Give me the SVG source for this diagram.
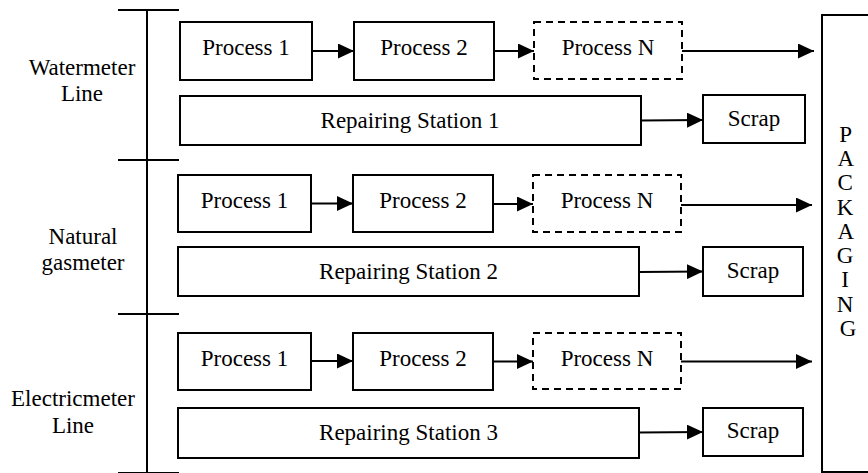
<svg xmlns="http://www.w3.org/2000/svg" width="868" height="473" viewBox="0 0 868 473">
<style>
  .box { fill: #fff; stroke: #000; stroke-width: 2; }
  .dash { fill: #fff; stroke: #000; stroke-width: 2; stroke-dasharray: 7 5; }
  .t { font-family: "Liberation Serif", "Tinos", "Times New Roman", "DejaVu Serif", serif; font-size: 23px; fill: #000; text-anchor: middle; }
  .c { stroke: #000; stroke-width: 2; fill: none; marker-end: url(#ah); }
  .ax { stroke: #000; stroke-width: 2; fill: none; }
</style>
<defs>
  <marker id="ah" markerUnits="userSpaceOnUse" markerWidth="16" markerHeight="15" refX="16" refY="7.5" orient="auto">
    <path d="M0,0 L16,7.5 L0,15 Z" fill="#000"/>
  </marker>
</defs>
<rect width="868" height="473" fill="#fff"/>

<g id="axis">
  <line class="ax" x1="147" y1="10" x2="147" y2="473"/>
  <line class="ax" x1="118" y1="10" x2="179" y2="10"/>
  <line class="ax" x1="118" y1="160" x2="179" y2="160"/>
  <line class="ax" x1="118" y1="314" x2="179" y2="314"/>
  <line class="ax" x1="118" y1="473" x2="179" y2="473"/>
</g>

<g id="label-water">
  <text class="t" x="82" y="75">Watermeter</text>
  <text class="t" x="82" y="101">Line</text>
</g>
<g id="label-gas">
  <text class="t" x="83" y="244">Natural</text>
  <text class="t" x="83" y="270">gasmeter</text>
</g>
<g id="label-elec">
  <text class="t" x="73" y="406">Electricmeter</text>
  <text class="t" x="73" y="433">Line</text>
</g>

<!-- Row 1 -->
<g id="w-p1"><rect class="box" x="180" y="22" width="132" height="58"/><text class="t" x="246" y="55">Process 1</text></g>
<g id="w-p2"><rect class="box" x="354" y="22" width="140" height="58"/><text class="t" x="424" y="55">Process 2</text></g>
<g id="w-pn"><rect class="dash" x="534" y="22" width="148" height="57"/><text class="t" x="608" y="55">Process N</text></g>
<g id="w-rs"><rect class="box" x="180" y="96" width="461" height="49"/><text class="t" x="410" y="128">Repairing Station 1</text></g>
<g id="w-sc"><rect class="box" x="703" y="95" width="102" height="48"/><text class="t" x="754" y="126">Scrap</text></g>

<!-- Row 2 -->
<g id="g-p1"><rect class="box" x="178" y="175" width="133" height="57"/><text class="t" x="244.5" y="208">Process 1</text></g>
<g id="g-p2"><rect class="box" x="353" y="175" width="140" height="57"/><text class="t" x="423" y="208">Process 2</text></g>
<g id="g-pn"><rect class="dash" x="533" y="175" width="148" height="57"/><text class="t" x="607" y="208">Process N</text></g>
<g id="g-rs"><rect class="box" x="178" y="247" width="461" height="49"/><text class="t" x="408.5" y="279">Repairing Station 2</text></g>
<g id="g-sc"><rect class="box" x="703" y="247" width="100" height="49"/><text class="t" x="753" y="278">Scrap</text></g>

<!-- Row 3 -->
<g id="e-p1"><rect class="box" x="178" y="333" width="133" height="57"/><text class="t" x="244.5" y="366">Process 1</text></g>
<g id="e-p2"><rect class="box" x="353" y="333" width="140" height="57"/><text class="t" x="423" y="366">Process 2</text></g>
<g id="e-pn"><rect class="dash" x="533" y="333" width="148" height="56"/><text class="t" x="607" y="366">Process N</text></g>
<g id="e-rs"><rect class="box" x="178" y="408" width="461" height="50"/><text class="t" x="408.5" y="440">Repairing Station 3</text></g>
<g id="e-sc"><rect class="box" x="703" y="408" width="100" height="48"/><text class="t" x="753" y="438">Scrap</text></g>

<!-- Packaging -->
<g id="packaging">
  <rect class="box" x="822" y="15" width="80" height="457"/>
  <text class="t" x="848">
    <tspan x="848" y="142">P</tspan>
    <tspan x="848" y="166">A</tspan>
    <tspan x="848" y="190">C</tspan>
    <tspan x="848" y="215">K</tspan>
    <tspan x="848" y="239">A</tspan>
    <tspan x="848" y="263">G</tspan>
    <tspan x="848" y="287">I</tspan>
    <tspan x="848" y="312">N</tspan>
    <tspan x="848" y="336">G</tspan>
  </text>
</g>

<g id="connectors">
  <line class="c" x1="312" y1="51" x2="354" y2="51"/>
  <line class="c" x1="494" y1="51" x2="534" y2="51"/>
  <line class="c" x1="682" y1="51" x2="814" y2="51"/>
  <line class="c" x1="641" y1="120.5" x2="703" y2="120"/>

  <line class="c" x1="311" y1="203.5" x2="353" y2="203.5"/>
  <line class="c" x1="493" y1="204" x2="533" y2="204"/>
  <line class="c" x1="681" y1="205" x2="812" y2="205"/>
  <line class="c" x1="639" y1="272" x2="703" y2="271.5"/>

  <line class="c" x1="311" y1="361" x2="353" y2="361"/>
  <line class="c" x1="493" y1="361.5" x2="533" y2="361.5"/>
  <line class="c" x1="681" y1="361.5" x2="812" y2="361.5"/>
  <line class="c" x1="639" y1="432.5" x2="703" y2="432"/>
</g>
</svg>
